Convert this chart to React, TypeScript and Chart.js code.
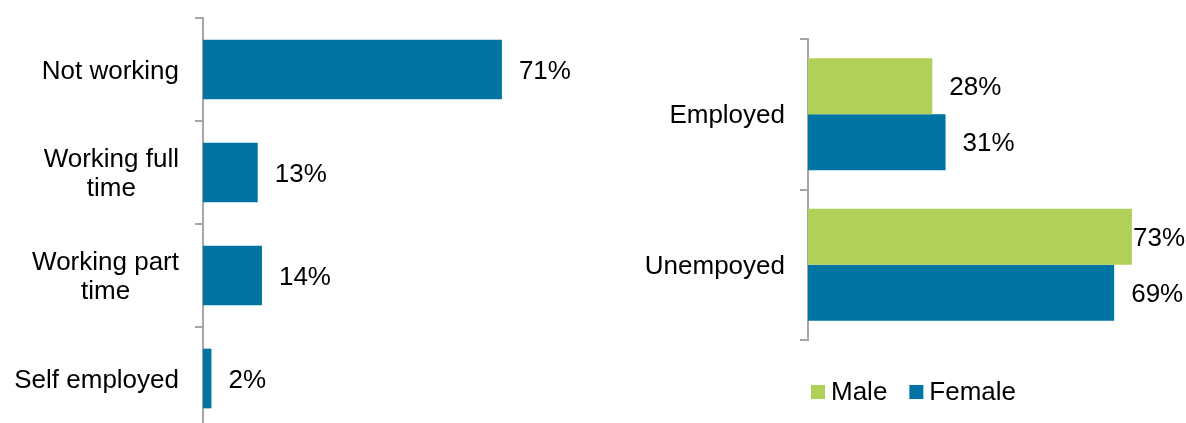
import React, { useEffect, useRef } from "react";
import { Chart, registerables } from "chart.js";

Chart.register(...registerables);

const statusCategories: (string | string[])[] = [
  "Not working",
  ["Working full", "time"],
  ["Working part", "time"],
  "Self employed",
];
const statusValues = [71, 13, 14, 2];

const genderCategories: string[] = ["Employed", "Unempoyed"];
const maleValues = [28, 73];
const femaleValues = [31, 69];
const seriesNames = ["Male", "Female"];

const BLUE = "#0075A3";
const GREEN = "#B0D158";
const GREY = "#A6A6A6";
const FONT = '26px "Liberation Sans", Arial, sans-serif';

const labelPlugin = (rightEdge: number) => ({
  id: "catLabels",
  afterDraw(chart: any) {
    const ctx = chart.ctx;
    const scale = chart.scales.y;
    const labels = chart.data.labels as (string | string[])[];
    ctx.save();
    ctx.font = FONT;
    ctx.fillStyle = "#000";
    ctx.textAlign = "center";
    ctx.textBaseline = "middle";
    labels.forEach((lab, i) => {
      const lines = Array.isArray(lab) ? lab : [lab];
      const maxW = Math.max(...lines.map((l) => ctx.measureText(l).width));
      const cx = rightEdge - maxW / 2;
      const cy = scale.getPixelForValue(i) + 2;
      lines.forEach((l, j) => {
        ctx.fillText(l, cx, cy + (j - (lines.length - 1) / 2) * 29);
      });
    });
    ctx.restore();
  },
});

const valuePlugin = {
  id: "valLabels",
  afterDatasetsDraw(chart: any) {
    const ctx = chart.ctx;
    ctx.save();
    ctx.font = FONT;
    ctx.fillStyle = "#000";
    ctx.textAlign = "left";
    ctx.textBaseline = "middle";
    chart.data.datasets.forEach((ds: any, di: number) => {
      const meta = chart.getDatasetMeta(di);
      meta.data.forEach((el: any, i: number) => {
        const txt = `${ds.data[i]}%`;
        const w = ctx.measureText(txt).width;
        const x = Math.min(el.x + 17, chart.width - w - 1);
        ctx.fillText(txt, x, el.y + 2);
      });
    });
    ctx.restore();
  },
};

const legendPlugin = (startX: number, cy: number) => ({
  id: "customLegend",
  afterDraw(chart: any) {
    const ctx = chart.ctx;
    ctx.save();
    ctx.font = FONT;
    ctx.textBaseline = "middle";
    ctx.textAlign = "left";
    let x = startX;
    chart.data.datasets.forEach((ds: any) => {
      ctx.fillStyle = ds.backgroundColor;
      ctx.fillRect(x, cy - 7, 14, 14);
      ctx.fillStyle = "#000";
      ctx.fillText(ds.label, x + 20, cy + 1);
      x += 20 + ctx.measureText(ds.label).width + 22;
    });
    ctx.restore();
  },
});

const yAxis = (width: number) => ({
  type: "category" as const,
  afterFit: (s: any) => {
    s.width = width;
  },
  ticks: { display: false },
  grid: {
    display: true,
    drawOnChartArea: false,
    drawTicks: true,
    tickLength: 8,
    color: GREY,
    lineWidth: 2,
    offset: true,
  },
  border: { display: true, color: GREY, width: 2 },
});

export default function App() {
  const leftRef = useRef<HTMLCanvasElement>(null);
  const rightRef = useRef<HTMLCanvasElement>(null);

  useEffect(() => {
    const left = new Chart(leftRef.current!, {
      type: "bar",
      data: {
        labels: statusCategories as any,
        datasets: [
          {
            label: "Status",
            data: statusValues,
            backgroundColor: BLUE,
            barPercentage: 0.58,
            categoryPercentage: 1,
          },
        ],
      },
      options: {
        indexAxis: "y",
        animation: false,
        responsive: false,
        layout: { padding: { top: 18, bottom: 10, left: 0, right: 6 } },
        plugins: { legend: { display: false }, tooltip: { enabled: false } },
        scales: {
          x: { display: false, min: 0, max: 100 },
          y: yAxis(203) as any,
        },
      },
      plugins: [labelPlugin(179), valuePlugin],
    });

    const right = new Chart(rightRef.current!, {
      type: "bar",
      data: {
        labels: genderCategories,
        datasets: [
          {
            label: seriesNames[0],
            data: maleValues,
            backgroundColor: GREEN,
            barPercentage: 1,
            categoryPercentage: 0.745,
          },
          {
            label: seriesNames[1],
            data: femaleValues,
            backgroundColor: BLUE,
            barPercentage: 1,
            categoryPercentage: 0.745,
          },
        ],
      },
      options: {
        indexAxis: "y",
        animation: false,
        responsive: false,
        layout: { padding: { top: 39, bottom: 83, left: 0, right: 23 } },
        plugins: { legend: { display: false }, tooltip: { enabled: false } },
        scales: {
          x: { display: false, min: 0, max: 80 },
          y: yAxis(178) as any,
        },
      },
      plugins: [labelPlugin(155), valuePlugin, legendPlugin(181, 392)],
    });

    return () => {
      left.destroy();
      right.destroy();
    };
  }, []);

  return (
    <div
      style={{
        position: "fixed",
        left: 0,
        top: 0,
        width: 1186,
        height: 423,
        overflow: "hidden",
        background: "#fff",
      }}
    >
      <canvas
        ref={leftRef}
        width={630}
        height={440}
        style={{ position: "absolute", left: 0, top: 0, width: 630, height: 440 }}
      />
      <canvas
        ref={rightRef}
        width={556}
        height={423}
        style={{ position: "absolute", left: 630, top: 0, width: 556, height: 423 }}
      />
    </div>
  );
}
